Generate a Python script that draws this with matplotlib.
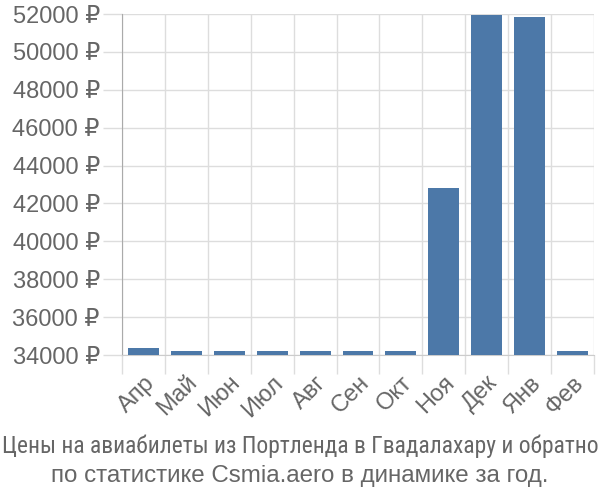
import numpy as np
import matplotlib
matplotlib.use('Agg')
from matplotlib import pyplot as plt
from matplotlib import font_manager as fm

months = ['Апр', 'Май', 'Июн', 'Июл', 'Авг', 'Сен', 'Окт', 'Ноя', 'Дек', 'Янв', 'Фев']
prices = [34370, 34190, 34190, 34190, 34190, 34190, 34190, 42790, 51950, 51860, 34190]
y_ticks = [34000, 36000, 38000, 40000, 42000, 44000, 46000, 48000, 50000, 52000]
title_1 = 'Цены на авиабилеты из Портленда в Гвадалахару и обратно'
title_2 = 'по статистике Csmia.aero в динамике за год.'

txt = '#666666'
grid_c = '#dddddd'
bar_c = '#4c78a8'

plt.rcParams['font.family'] = ['Liberation Sans', 'DejaVu Sans']

# narrow upright font for the first caption line, if one is installed
def pick_narrow():
    for name in ['Liberation Sans Narrow', 'Roboto Condensed', 'Open Sans Condensed',
                 'Noto Sans Condensed', 'DejaVu Sans Condensed']:
        for f in fm.fontManager.ttflist:
            if f.name == name and f.style == 'normal' and f.weight in (400, 'normal', 'regular') \
                    and 'Italic' not in f.fname and 'Light' not in f.fname:
                return f.fname
    for f in fm.fontManager.ttflist:
        if f.name == 'DejaVu Sans' and f.style == 'normal' and 'Condensed' in f.fname \
                and 'Bold' not in f.fname and 'Oblique' not in f.fname:
            return f.fname
    return None

narrow = pick_narrow()
if narrow:
    t_font = fm.FontProperties(fname=narrow, size=16.9)
else:
    t_font = fm.FontProperties(family=['Liberation Sans', 'DejaVu Sans'], size=15)

fig = plt.figure(figsize=(6, 5), dpi=100)
ax = fig.add_axes([122/600, 1-355/500, 472/600, 341/500])

x = np.arange(len(months))
ax.bar(x, prices, width=0.72, color=bar_c, zorder=3)

ax.set_xlim(-0.5, len(months) - 0.5)
ax.set_ylim(y_ticks[0], y_ticks[-1])

ax.set_yticks(y_ticks)
ax.set_yticklabels([f'{v} ₽' for v in y_ticks], fontsize=17, color=txt)
ax.tick_params(axis='y', length=14, width=1, color=grid_c, pad=2)

ax.set_xticks(x)
ax.set_xticklabels(months, fontsize=17, color=txt, rotation=45, ha='right',
                   rotation_mode='anchor')
ax.tick_params(axis='x', which='major', length=0, pad=12)
ax.set_xticks(np.arange(-0.5, len(months)), minor=True)
ax.tick_params(axis='x', which='minor', length=14, width=1, color=grid_c)

ax.grid(True, axis='y', color=grid_c, linewidth=1, zorder=0)
ax.grid(True, axis='x', which='minor', color=grid_c, linewidth=1, zorder=0)
ax.grid(False, axis='x', which='major')

for s in ['top', 'right']:
    ax.spines[s].set_visible(False)
ax.spines['left'].set_color('#aaaaaa')
ax.spines['bottom'].set_color('#cccccc')

fig.text(0.5, 1-453/500, title_1, ha='center', va='baseline', fontproperties=t_font,
         color=txt)
fig.text(0.5, 1-482/500, title_2, ha='center', va='baseline', fontsize=17.4,
         color=txt)

fig.savefig('out.png', dpi=100)
